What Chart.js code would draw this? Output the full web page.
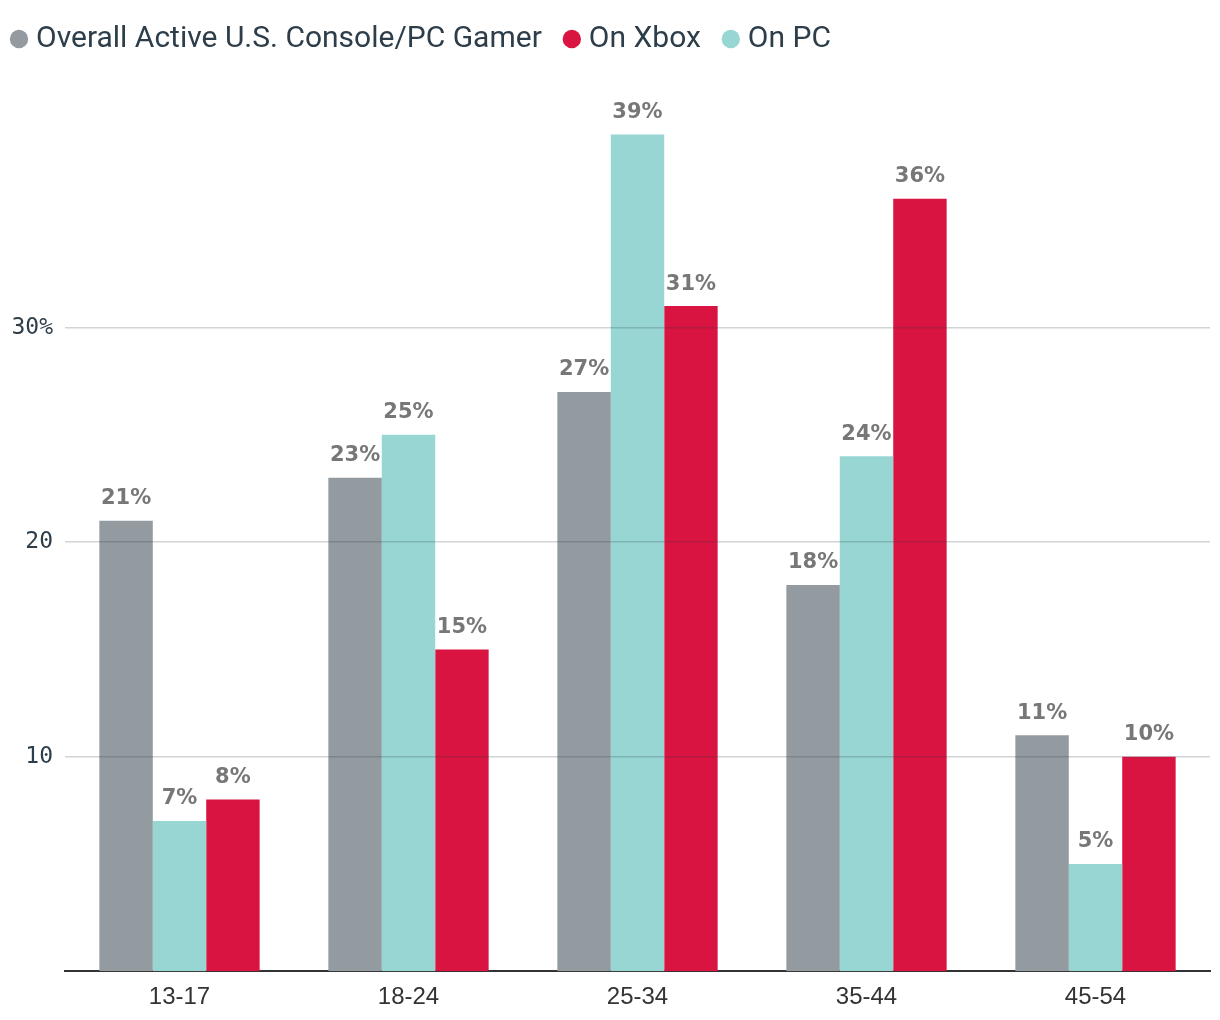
<!DOCTYPE html>
<html>
<head>
<meta charset="utf-8">
<script src="https://cdn.jsdelivr.net/npm/chart.js@4.4.1/dist/chart.umd.min.js"></script>
<style>
body{margin:0;background:#fff;}
#wrap{width:1220px;height:1020px;}
</style>
</head>
<body>
<div id="wrap"><canvas id="c" width="1220" height="1020"></canvas></div>
<script>
let ageGroups=["13-17","18-24","25-34","35-44","45-54"];
let overall=[21,23,27,18,11];
let onPC=[7,25,39,24,5];
let onXbox=[8,15,31,36,10];
let legendOrder=["Overall Active U.S. Console/PC Gamer","On Xbox","On PC"];

// value labels above every bar
let valueLabels={
id:"valueLabels",
afterDatasetsDraw(chart){
let ctx=chart.ctx; ctx.save();
ctx.font="bold 21px 'DejaVu Sans', sans-serif";
ctx.fillStyle="#777";
ctx.textAlign="center"; ctx.textBaseline="middle";
chart.data.datasets.forEach((ds,i)=>{
chart.getDatasetMeta(i).data.forEach((el,j)=>{
ctx.fillText(ds.data[j]+"%",el.x,el.y-22);
});
});
ctx.restore();
}
};

// extra room under the legend
let legendSpace={
id:"legendSpace",
beforeInit(chart){
let fit=chart.legend.fit;
chart.legend.fit=function(){fit.bind(this)(); this.height+=49;};
}
};

new Chart(document.getElementById("c"),{
type:"bar",
data:{labels:ageGroups,datasets:[
{label:"Overall Active U.S. Console/PC Gamer",data:overall,backgroundColor:"#939ba1"},
{label:"On PC",data:onPC,backgroundColor:"#98d6d4"},
{label:"On Xbox",data:onXbox,backgroundColor:"#da1440"}
]},
options:{
responsive:false,animation:false,
layout:{padding:{left:-11,right:10,top:-4,bottom:4}},
datasets:{bar:{categoryPercentage:0.7,barPercentage:1}},
plugins:{
tooltip:{enabled:false},
legend:{align:"start",labels:{
usePointStyle:true,pointStyle:"circle",boxWidth:4,boxHeight:13,padding:28,
color:"#2d3e4a",font:{size:30,family:"Roboto, sans-serif"},
sort:(a,b)=>legendOrder.indexOf(a.text)-legendOrder.indexOf(b.text)
}}
},
scales:{
x:{grid:{display:false},border:{display:true,color:"#333",width:2},
ticks:{color:"#333",padding:4,font:{size:24,family:"'Liberation Sans', sans-serif"}}},
y:{min:0,max:40,
afterFit:s=>{s.width=76;},
grid:{color:"rgba(40,60,70,0.22)",lineWidth:1.5,drawTicks:false,z:1},
border:{display:false},
afterBuildTicks:s=>{s.ticks=s.ticks.filter(t=>t.value==10||t.value==20||t.value==30);},
ticks:{stepSize:10,padding:12,color:"#2d3e4a",font:{size:23,family:"'DejaVu Sans Mono', monospace"},
callback:v=>v==30?"30%":v}}
}
},
plugins:[valueLabels,legendSpace]
});
</script>
</body>
</html>
